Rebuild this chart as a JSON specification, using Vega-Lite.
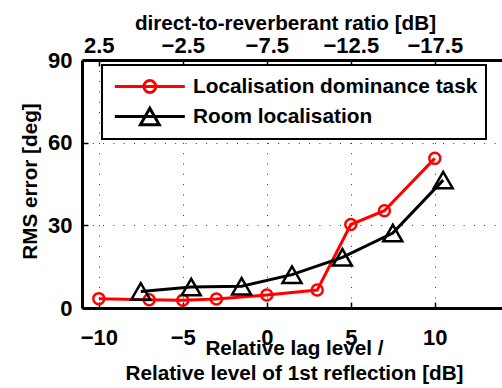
{
  "$schema": "https://vega.github.io/schema/vega-lite/v6.json",
  "width": 420,
  "height": 248,
  "autosize": {"type": "none"},
  "padding": {"left": 82, "top": 60, "right": 0, "bottom": 80},
  "config": {
    "view": {"stroke": null},
    "font": "Liberation Sans",
    "axis": {
      "domainColor": "black",
      "domainWidth": 3,
      "tickColor": "black",
      "tickWidth": 1.5,
      "tickSize": -6,
      "labelFont": "Liberation Sans",
      "labelFontSize": 22,
      "labelFontWeight": "bold",
      "labelColor": "black",
      "labelFlush": false,
      "labelOverlap": false,
      "titleFont": "Liberation Sans",
      "titleFontSize": 20.7,
      "titleFontWeight": "bold",
      "titleColor": "black",
      "gridColor": "black",
      "gridOpacity": 0.8,
      "gridWidth": 1,
      "gridDash": [1, 9.3]
    }
  },
  "data": {
    "values": [
      {"x": -10, "rms": 3.4, "series": "Localisation dominance task"},
      {"x": -7, "rms": 3.0, "series": "Localisation dominance task"},
      {"x": -5, "rms": 2.8, "series": "Localisation dominance task"},
      {"x": -3, "rms": 3.3, "series": "Localisation dominance task"},
      {"x": 0, "rms": 4.7, "series": "Localisation dominance task"},
      {"x": 3, "rms": 6.5, "series": "Localisation dominance task"},
      {"x": 5, "rms": 30.3, "series": "Localisation dominance task"},
      {"x": 7, "rms": 35.3, "series": "Localisation dominance task"},
      {"x": 10, "rms": 54.3, "series": "Localisation dominance task"},
      {"x": -7.5, "rms": 6.0, "series": "Room localisation"},
      {"x": -4.5, "rms": 7.6, "series": "Room localisation"},
      {"x": -1.5, "rms": 7.9, "series": "Room localisation"},
      {"x": 1.5, "rms": 12.1, "series": "Room localisation"},
      {"x": 4.5, "rms": 18.4, "series": "Room localisation"},
      {"x": 7.5, "rms": 27.2, "series": "Room localisation"},
      {"x": 10.5, "rms": 46.4, "series": "Room localisation"}
    ]
  },
  "encoding": {
    "y": {
      "field": "rms",
      "type": "quantitative",
      "scale": {"domain": [0, 90], "nice": false, "zero": false},
      "axis": {
        "values": [0, 30, 60, 90],
        "grid": true,
        "labelPadding": 16,
        "title": "RMS error [deg]",
        "titleX": -46,
        "titleY": 121,
        "titleAngle": -90,
        "titleAlign": "center",
        "titleBaseline": "alphabetic"
      }
    },
    "color": {
      "field": "series",
      "type": "nominal",
      "scale": {
        "domain": ["Localisation dominance task", "Room localisation"],
        "range": ["#ff0000", "#000000"]
      },
      "legend": {
        "orient": "none",
        "legendX": 20,
        "legendY": 5,
        "title": null,
        "fillColor": "white",
        "strokeColor": "black",
        "padding": 8,
        "rowPadding": 3,
        "symbolSize": 544,
        "symbolStrokeWidth": 3,
        "symbolOffset": 3,
        "labelOffset": 53,
        "labelFont": "Liberation Sans",
        "labelFontSize": 20.8,
        "labelFontWeight": "bold",
        "labelColor": "black",
        "labelLimit": 400,
        "encode": {
          "legend": {"update": {"strokeWidth": {"value": 2}}},
          "symbols": {
            "update": {
              "shape": {"signal": "datum.value === 'Room localisation' ? 'M-1,0H5M2,-0.71L1.19,0.71L2.81,0.71Z' : 'M-1,0H5M1.49,0A0.51,0.51 0 1,1 2.51,0A0.51,0.51 0 1,1 1.49,0'"},
              "fill": {"value": "transparent"},
              "size": {"value": 544},
              "strokeWidth": {"value": 3}
            }
          }
        }
      }
    }
  },
  "layer": [
    {
      "mark": {"type": "line", "strokeWidth": 3},
      "encoding": {
        "x": {
          "field": "x",
          "type": "quantitative",
          "scale": {"domain": [-11, 14], "nice": false, "zero": false},
          "axis": {
            "orient": "bottom",
            "values": [-10, -5, 0, 5, 10],
            "grid": true,
            "labelPadding": 25,
            "title": ["Relative lag level /", "Relative level of 1st reflection [dB]"],
            "titleLineHeight": 25,
            "titleX": 212,
            "titleY": 30,
            "titleAlign": "center",
            "titleBaseline": "top"
          }
        }
      }
    },
    {
      "transform": [{"filter": "datum.series === 'Localisation dominance task'"}],
      "mark": {"type": "point", "shape": "circle", "size": 121, "filled": false, "strokeWidth": 2.5, "opacity": 1},
      "encoding": {
        "x": {
          "field": "x",
          "type": "quantitative",
          "scale": {"domain": [-11, 14], "nice": false, "zero": false},
          "axis": {
            "orient": "top",
            "values": [-10, -5, 0, 5, 10],
            "grid": false,
            "labelPadding": 9,
            "labelExpr": "format(-datum.value - 7.5, '.1f')",
            "title": "direct-to-reverberant ratio [dB]",
            "titleX": 203,
            "titleY": -31,
            "titleAlign": "center",
            "titleBaseline": "alphabetic"
          }
        }
      }
    },
    {
      "transform": [{"filter": "datum.series === 'Room localisation'"}],
      "mark": {"type": "point", "shape": "triangle-up", "size": 361, "filled": false, "strokeWidth": 2.5, "opacity": 1},
      "encoding": {
        "x": {
          "field": "x",
          "type": "quantitative",
          "scale": {"domain": [-11, 14], "nice": false, "zero": false},
          "axis": null
        }
      }
    }
  ],
  "resolve": {"axis": {"x": "independent"}}
}
